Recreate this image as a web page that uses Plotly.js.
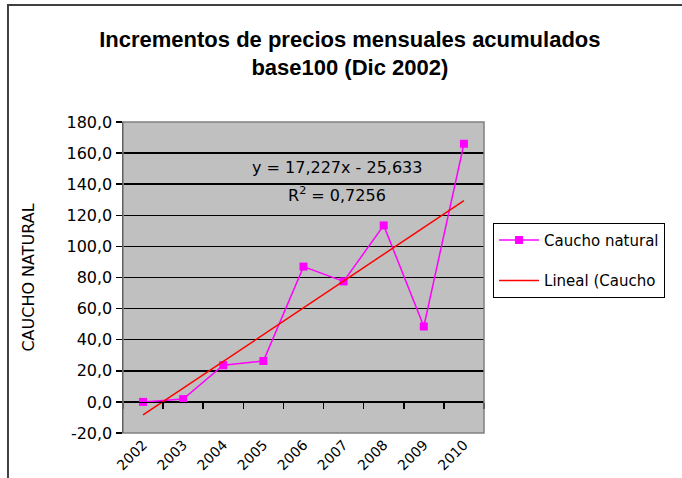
<!DOCTYPE html>
<html>
<head>
<meta charset="utf-8">
<script src="https://cdn.plot.ly/plotly-3.0.1.min.js"></script>
<style>html,body{margin:0;padding:0;background:#fff;}#chart{width:682px;height:478px;}</style>
</head>
<body>
<div id="chart"></div>
<script>
// Data
const years = ['2002','2003','2004','2005','2006','2007','2008','2009','2010'];
const caucho = [0, 1.8, 23.6, 26.3, 87, 77.5, 113.5, 48.5, 166];
// Excel linear trendline endpoints (y = 17,227x - 25,633 at x=1 and x=9)
const trendYears = ['2002','2010'];
const trendValues = [-8.4, 129.4];
const yTickVals = [-20, 0, 20, 40, 60, 80, 100, 120, 140, 160, 180];
const yTickText = ['-20,0','0,0','20,0','40,0','60,0','80,0','100,0','120,0','140,0','160,0','180,0'];
const seriesName = 'Caucho natural';
const trendName = 'Lineal (Caucho';
const titleText = 'Incrementos de precios mensuales acumulados<br>base100 (Dic 2002)';
const yTitle = 'CAUCHO NATURAL';
const eqText = 'y = 17,227x - 25,633';
const r2Text = 'R<sup>2</sup> = 0,7256';

const font = 'DejaVu Sans, Arial, sans-serif';

const traces = [
  {
    x: years, y: caucho, name: seriesName, type: 'scatter', mode: 'lines+markers',
    line: {color: '#FF00FF', width: 1.5},
    marker: {color: '#FF00FF', symbol: 'square', size: 8},
    legendgroup: 'a'
  },
  {
    x: trendYears, y: trendValues, name: trendName, type: 'scatter', mode: 'lines',
    xaxis: 'x2',
    line: {color: '#FF0000', width: 1.5},
    legendgroup: 'b'
  }
];

const layout = {
  width: 682, height: 478,
  margin: {l: 123, r: 198, t: 122, b: 45, pad: 0, autoexpand: false},
  paper_bgcolor: '#FFFFFF',
  plot_bgcolor: '#C0C0C0',
  separators: ',.',
  font: {family: font, size: 15, color: '#000'},
  title: {
    text: titleText,
    font: {family: 'Arial, Liberation Sans, sans-serif', size: 22, color: '#000', weight: 'bold'},
    x: 0.513, xanchor: 'center', xref: 'container',
    y: 0.902, yanchor: 'middle', yref: 'container'
  },
  xaxis: {
    type: 'category', categoryarray: years, categoryorder: 'array',
    range: [-0.5, 8.5],
    showline: false, showgrid: false, zeroline: false,
    ticks: '', tickangle: -45,
    tickfont: {family: font, size: 14, color: '#000'},
    automargin: false
  },
  xaxis2: {
    overlaying: 'x', anchor: 'free', position: 0.1,
    type: 'category', categoryarray: years, categoryorder: 'array',
    range: [-0.5, 8.5],
    tickson: 'boundaries',
    showline: true, linecolor: '#000', linewidth: 1.5,
    ticks: 'outside', ticklen: 6, tickwidth: 1.5, tickcolor: '#000',
    showticklabels: false, showgrid: false, zeroline: false
  },
  yaxis: {
    range: [-20, 180],
    tickmode: 'array', tickvals: yTickVals, ticktext: yTickText,
    showline: true, linecolor: '#000', linewidth: 1.5,
    ticks: 'outside', ticklen: 6, tickwidth: 1.5, tickcolor: '#000',
    showgrid: true, gridcolor: '#000', gridwidth: 1.5,
    zeroline: false, automargin: false,
    tickfont: {family: font, size: 16, color: '#000'},
    title: {text: yTitle, font: {family: font, size: 16, color: '#000'}, standoff: 28}
  },
  showlegend: true,
  legend: {
    x: 1.025, xanchor: 'left', y: 0.676, yanchor: 'top',
    bgcolor: '#FFFFFF', bordercolor: '#000', borderwidth: 1,
    font: {family: font, size: 15, color: '#000'},
    traceorder: 'grouped', tracegroupgap: 18, itemwidth: 40
  },
  annotations: [
    {text: eqText, xref: 'paper', yref: 'paper', x: 0.593, y: 0.855, xanchor: 'center', yanchor: 'middle', showarrow: false, font: {family: font, size: 16, color: '#000'}},
    {text: r2Text, xref: 'paper', yref: 'paper', x: 0.593, y: 0.768, xanchor: 'center', yanchor: 'middle', showarrow: false, font: {family: font, size: 16, color: '#000'}}
  ],
  shapes: [
    {type: 'rect', xref: 'paper', yref: 'paper', x0: 0, x1: 1, y0: 0, y1: 1, line: {color: '#808080', width: 1.5}, fillcolor: 'rgba(0,0,0,0)', layer: 'above'},
    {type: 'rect', xref: 'paper', yref: 'paper', x0: -0.3186, x1: 1.7, y0: -0.4, y1: 1.376, line: {color: '#404040', width: 2}, fillcolor: 'rgba(0,0,0,0)', layer: 'above'}
  ]
};

Plotly.newPlot('chart', traces, layout, {displayModeBar: false, staticPlot: true});
</script>
</body>
</html>
